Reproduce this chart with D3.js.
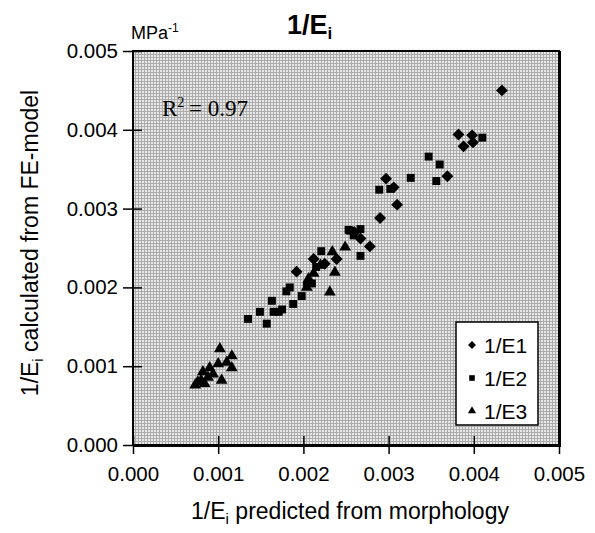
<!DOCTYPE html>
<html>
<head>
<meta charset="utf-8">
<script src="https://cdn.jsdelivr.net/npm/d3@7"></script>
<style>
    body { margin: 0; background: #ffffff; }
    text { font-family: "Liberation Sans", Arial, sans-serif; fill: #000; }
</style>
</head>
<body>
<div id="chart"></div>
<script>
// values (MPa^-1)
var e1X = [0.00433, 0.00382, 0.00398, 0.00388, 0.00399, 0.00369, 0.00297, 0.00306, 0.00310, 0.00290, 0.00278, 0.00267, 0.00239, 0.00212, 0.00192, 0.00225, 0.00260];
var e1Y = [0.00450, 0.00394, 0.00393, 0.00379, 0.00384, 0.00341, 0.00338, 0.00327, 0.00305, 0.00288, 0.00252, 0.00262, 0.00236, 0.00236, 0.00220, 0.00230, 0.00270];

var e2X = [0.00410, 0.00347, 0.00360, 0.00326, 0.00356, 0.00289, 0.00302, 0.00253, 0.00267, 0.00259, 0.00267, 0.00221, 0.00215, 0.00204, 0.00198, 0.00188, 0.00184, 0.00180, 0.00171, 0.00165, 0.00163, 0.00157, 0.00149, 0.00135, 0.00210, 0.00175, 0.00255];
var e2Y = [0.00390, 0.00366, 0.00356, 0.00339, 0.00335, 0.00324, 0.00325, 0.00273, 0.00274, 0.00266, 0.00240, 0.00246, 0.00226, 0.00202, 0.00189, 0.00179, 0.00200, 0.00195, 0.00169, 0.00169, 0.00183, 0.00154, 0.00169, 0.00160, 0.00205, 0.00172, 0.00272];

var e3X = [0.00249, 0.00234, 0.00237, 0.00231, 0.00206, 0.00204, 0.00212, 0.00220, 0.00102, 0.00116, 0.00100, 0.00090, 0.00082, 0.00076, 0.00104, 0.00116, 0.00084, 0.00094, 0.00073, 0.00110, 0.00088, 0.00080];
var e3Y = [0.00251, 0.00245, 0.00219, 0.00194, 0.00211, 0.00200, 0.00218, 0.00228, 0.00122, 0.00113, 0.00103, 0.00098, 0.00093, 0.00080, 0.00082, 0.00098, 0.00078, 0.00090, 0.00076, 0.00105, 0.00086, 0.00082];

var seriesNames = ["1/E1", "1/E2", "1/E3"];
var tickValues = [0, 0.001, 0.002, 0.003, 0.004, 0.005];

var width = 595, height = 533;
var plot = { left: 133, right: 559, top: 51, bottom: 445 };

var svg = d3.select("#chart").append("svg")
    .attr("width", width)
    .attr("height", height);

// dithered grey like the scan
var defs = svg.append("defs");
var pat = defs.append("pattern")
    .attr("id", "dither")
    .attr("width", 3).attr("height", 3)
    .attr("patternUnits", "userSpaceOnUse");
pat.append("rect").attr("width", 3).attr("height", 3).attr("fill", "#e8e8e8");
pat.append("rect").attr("width", 3).attr("height", 1).attr("fill", "#acacac");
pat.append("rect").attr("width", 1).attr("height", 3).attr("fill", "#acacac");

var x = d3.scaleLinear().domain([0, 0.005]).range([plot.left, plot.right]);
var y = d3.scaleLinear().domain([0, 0.005]).range([plot.bottom, plot.top]);

svg.append("rect")
    .attr("x", plot.left).attr("y", plot.top)
    .attr("width", plot.right - plot.left)
    .attr("height", plot.bottom - plot.top)
    .attr("fill", "url(#dither)");

var fmt = d3.format(".3f");

// y axis
var yAxis = svg.append("g")
    .attr("transform", "translate(" + plot.left + ",0)")
    .call(d3.axisLeft(y).tickValues(tickValues).tickFormat(fmt).tickSizeInner(10).tickSizeOuter(0));
yAxis.select(".domain").remove();
yAxis.selectAll(".tick line").attr("x2", 9).attr("x1", -10).attr("stroke", "#000").attr("stroke-width", 1.5);
yAxis.selectAll(".tick text").attr("x", -15).style("font-size", "20.5px");

// x axis
var xAxis = svg.append("g")
    .attr("transform", "translate(0," + plot.bottom + ")")
    .call(d3.axisBottom(x).tickValues(tickValues).tickFormat(fmt).tickSizeInner(10).tickSizeOuter(0));
xAxis.select(".domain").remove();
xAxis.selectAll(".tick line").attr("y1", -9).attr("y2", 9).attr("stroke", "#000").attr("stroke-width", 1.5);
xAxis.selectAll(".tick text").attr("y", 21).attr("dy", "0.71em").style("font-size", "20.5px");

// plot frame, heavier bottom/right like the print
svg.append("rect")
    .attr("x", plot.left).attr("y", plot.top)
    .attr("width", plot.right - plot.left)
    .attr("height", plot.bottom - plot.top)
    .attr("fill", "none").attr("stroke", "#000").attr("stroke-width", 2);
svg.append("path")
    .attr("d", "M" + (plot.right + 1) + "," + plot.top + "V" + (plot.bottom + 1) + "H" + plot.left)
    .attr("fill", "none").attr("stroke", "#000").attr("stroke-width", 2);

// markers
var sym = [d3.symbolDiamond2, d3.symbolSquare2, d3.symbolTriangle2];
var symSize = [90, 80, 100];
var xs = [e1X, e2X, e3X], ys = [e1Y, e2Y, e3Y];

xs.forEach(function (arr, s) {
    var pts = arr.map(function (v, i) { return [v, ys[s][i]]; });
    svg.append("g").selectAll("path")
        .data(pts)
        .enter()
        .append("path")
        .attr("d", d3.symbol().type(sym[s]).size(symSize[s]))
        .attr("transform", function (d) {
            return "translate(" + x(d[0]) + "," + y(d[1]) + ")";
        })
        .attr("fill", "#000");
});

// legend
var lg = svg.append("g");
lg.append("rect")
    .attr("x", 456).attr("y", 322)
    .attr("width", 82).attr("height", 103)
    .attr("fill", "#fff").attr("stroke", "#000").attr("stroke-width", 1.5);
seriesNames.forEach(function (n, i) {
    var cy = 345 + i * 33;
    lg.append("path")
        .attr("d", d3.symbol().type(sym[i]).size([40, 40, 48][i]))
        .attr("transform", "translate(472," + cy + ")")
        .attr("fill", "#000");
    lg.append("text")
        .attr("x", 484).attr("y", cy + 8)
        .style("font-size", "21px")
        .text(n);
});

// R^2 note
var r2 = svg.append("text")
    .attr("x", 162).attr("y", 116)
    .style("font-family", "'Liberation Serif', 'Times New Roman', serif")
    .style("font-size", "23px");
r2.append("tspan").text("R");
r2.append("tspan").attr("dy", -9).style("font-size", "14px").text("2");
r2.append("tspan").attr("dy", 9).text("\u2009= 0.97");

// title
var title = svg.append("text")
    .attr("x", 287).attr("y", 34)
    .style("font-size", "27px").style("font-weight", "bold");
title.append("tspan").text("1/E");
title.append("tspan").attr("dy", 5).style("font-size", "17px").text("i");

// unit
var unit = svg.append("text")
    .attr("x", 131).attr("y", 39)
    .style("font-size", "18px");
unit.append("tspan").text("MPa");
unit.append("tspan").attr("dy", -7).style("font-size", "12px").text("-1");

// axis titles
var xt = svg.append("text")
    .attr("x", (plot.left + plot.right) / 2 + 4).attr("y", 519)
    .attr("text-anchor", "middle")
    .style("font-size", "23px");
xt.append("tspan").text("1/E");
xt.append("tspan").attr("dy", 5).style("font-size", "15px").text("i");
xt.append("tspan").attr("dy", -5).text(" predicted from morphology");

var yt = svg.append("text")
    .attr("transform", "translate(38," + ((plot.top + plot.bottom) / 2 - 5) + ") rotate(-90)")
    .attr("text-anchor", "middle")
    .style("font-size", "23px");
yt.append("tspan").text("1/E");
yt.append("tspan").attr("dy", 5).style("font-size", "15px").text("i");
yt.append("tspan").attr("dy", -5).text(" calculated from FE-model");
</script>
</body>
</html>
